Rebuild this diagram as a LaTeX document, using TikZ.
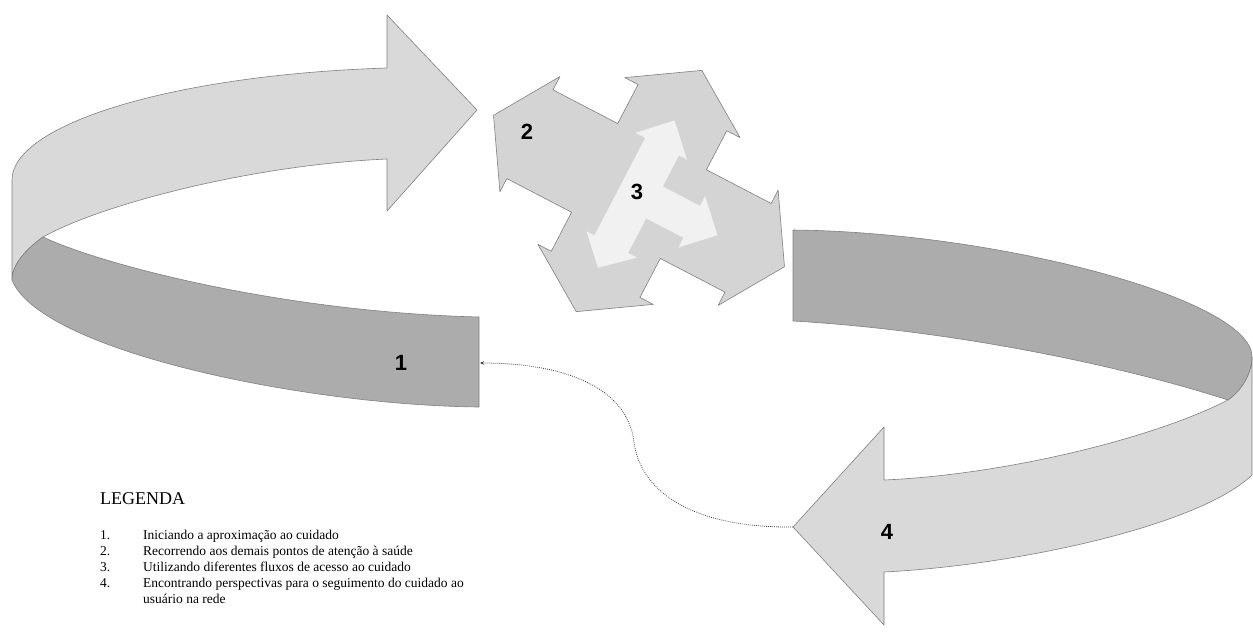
\documentclass[tikz,border=0pt]{standalone}
\usepackage{fontspec}
\setmainfont{Liberation Serif}
\newfontfamily\labelfont{Liberation Sans}
\usetikzlibrary{arrows.meta}

\definecolor{bandlight}{RGB}{217,217,217}
\definecolor{banddark}{RGB}{172,172,172}
\definecolor{starfill}{RGB}{212,212,212}
\definecolor{innerfill}{RGB}{241,241,241}
\definecolor{rim}{RGB}{128,128,128}

\begin{document}
\begin{tikzpicture}[
    % GLOBAL CFG (1 unit = 1 px of the figure, y going down)
    x=1pt, y=-1pt,
    % Styles
    light/.style={% light part of a band
        fill=bandlight,
        draw=rim,
        line width=0.6pt,
        line join=round,
        },
    dark/.style={% dark (front) part of a band
        fill=banddark,
        draw=rim,
        line width=0.6pt,
        line join=round,
        },
    star/.style={% the four-way arrow
        fill=starfill,
        draw=rim,
        line width=0.6pt,
        line join=round,
        },
    inner/.style={% the pale three-way arrow on top of it
        fill=innerfill,
        },
    num/.style={% step numbers
        font=\labelfont\bfseries\fontsize{22}{22}\selectfont,
        inner sep=0pt,
        },
    legend/.style={% legend lines
        font=\fontsize{13.5}{16}\selectfont,
        anchor=base west,
        inner sep=0pt,
        },
    link/.style={% dotted return arrow
        draw=black!75,
        line width=0.8pt,
        dash pattern=on 0.8pt off 1.2pt,
        -{Stealth[length=4pt,width=3.5pt]},
        },
    ]

\useasboundingbox (0,0) rectangle (1253,633);

% Band 1 (left), light part with the head
\draw [light] (387,68) -- (387,15) -- (477,110) -- (387,211) -- (387,159)
    .. controls (250,165) and (100,205) .. (43,237)
    .. controls (25,250) and (12,265) .. (12,280)
    -- (12,180)
    .. controls (12,125) and (170,75) .. (387,68) -- cycle;
% Band 1, dark part
\draw [dark] (43,237) .. controls (100,264) and (280,312) .. (479,317)
    -- (479,407)
    .. controls (300,405) and (40,350) .. (12,280)
    .. controls (12,265) and (25,250) .. (43,237) -- cycle;
\coordinate (end1) at (480,363);

% Band 4 (right), dark part
\draw [dark] (793,230) .. controls (1000,232) and (1253,300) .. (1252,357)
    .. controls (1252,375) and (1240,392) .. (1228,400)
    .. controls (1120,365) and (950,330) .. (793,321) -- cycle;
% Band 4, light part with the head
\draw [light] (1252,357) -- (1252,475)
    .. controls (1200,525) and (1020,565) .. (884,572)
    -- (884,625) -- (793,527) -- (884,427) -- (884,480)
    .. controls (1000,475) and (1150,440) .. (1228,400)
    .. controls (1240,392) and (1252,375) .. (1252,357) -- cycle;
\coordinate (tip4) at (793,527);

% Four-way arrow (2) with the pale arrow (3)
\begin{scope}[shift={(639,191)}, y=1pt, rotate=-27.5]
    \draw [star] (164,0) -- (123,65) -- (123,50) -- (50,50) -- (50,94)
        -- (65,94) -- (0,136) -- (-65,94) -- (-50,94) -- (-50,50)
        -- (-123,50) -- (-123,65) -- (-164,0) -- (-123,-65) -- (-123,-50)
        -- (-50,-50) -- (-50,-94) -- (-65,-94) -- (0,-136) -- (65,-94)
        -- (50,-94) -- (50,-50) -- (123,-50) -- (123,-65) -- cycle;
    \fill [inner] (-1,79) -- (-30,50) -- (-19,50) -- (-19,-60) -- (-28,-60)
        -- (-1,-87) -- (29,-60) -- (19,-60) -- (19,-21) -- (61,-21)
        -- (61,-32) -- (90,-3) -- (61,26) -- (61,15) -- (19,15)
        -- (19,50) -- (28,50) -- cycle;
\end{scope}

% Step numbers
\node [num] (n1) at (401,363) {1};
\node [num] (n2) at (527,132) {2};
\node [num] (n3) at (637,192) {3};
\node [num] (n4) at (887,532) {4};

% Return from 4 to 1
\draw [link] (tip4) .. controls (690,528) and (640,490) .. (634,442)
    .. controls (627,385) and (560,363) .. (end1);

% Legend
\node [legend] (legtitle) at (100,504) {\fontsize{18}{20}\selectfont LEGENDA};
\node [legend] (num1) at (100,539) {1.};
\node [legend] (item1) at (143,539) {Iniciando a aproximação ao cuidado};
\node [legend] (num2) at (100,555) {2.};
\node [legend] (item2) at (143,555) {Recorrendo aos demais pontos de atenção à saúde};
\node [legend] (num3) at (100,571) {3.};
\node [legend] (item3) at (143,571) {Utilizando diferentes fluxos de acesso ao cuidado};
\node [legend] (num4) at (100,587) {4.};
\node [legend] (item4) at (143,587) {Encontrando perspectivas para o seguimento do cuidado ao};
\node [legend] (item4b) at (143,603) {usuário na rede};
\end{tikzpicture}
\end{document}
